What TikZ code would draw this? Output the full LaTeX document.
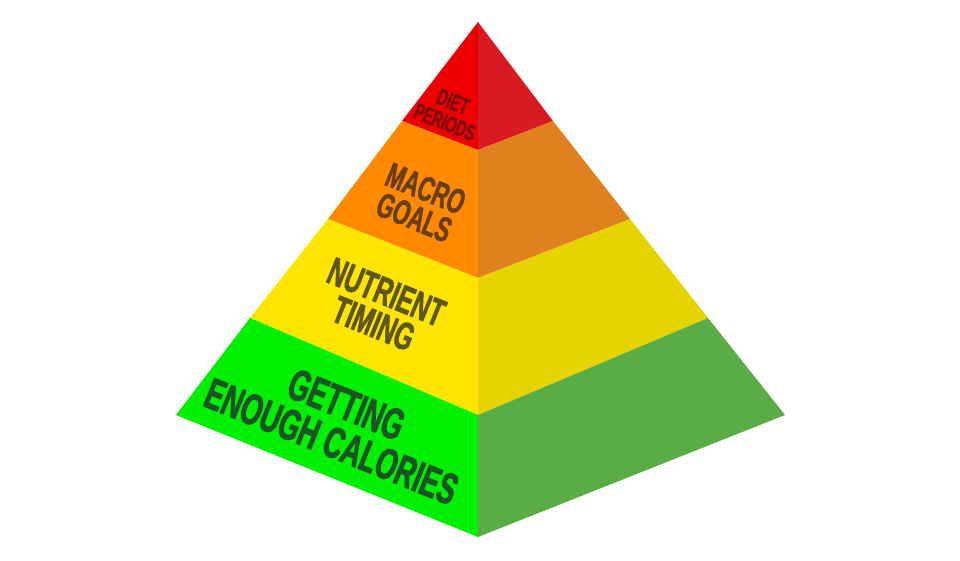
\documentclass[tikz,border=0pt]{standalone}
\usepackage{fontspec}
\usepackage{tikz}
\usetikzlibrary{positioning}
\newfontfamily\pyrfont[FakeStretch=0.62, FakeBold=1.5]{Liberation Sans}
\definecolor{redL}{HTML}{EE0000}
\definecolor{redR}{HTML}{D81B22}
\definecolor{orangeL}{HTML}{FF8A00}
\definecolor{orangeR}{HTML}{E0801F}
\definecolor{yellowL}{HTML}{FFE500}
\definecolor{yellowR}{HTML}{E6D400}
\definecolor{greenL}{HTML}{00F000}
\definecolor{greenR}{HTML}{5AAC44}
\definecolor{redtext}{HTML}{7D0A0A}
\definecolor{orangetext}{HTML}{6B3D12}
\definecolor{yellowtext}{HTML}{5E5719}
\definecolor{greentext}{HTML}{1B5226}
\tikzset{
  layer/.style={align=center, rotate=-22, inner sep=0pt},
}

\begin{document}
\begin{tikzpicture}[line join=round, x=1pt, y=1pt]
\useasboundingbox (0,0) rectangle (960,-560);
% corners
\coordinate (apex) at (478,-22);
\coordinate (l1) at (402,-121);
\coordinate (l2) at (328,-219);
\coordinate (l3) at (250,-318);
\coordinate (l4) at (176,-415);
\coordinate (f1) at (478,-150);
\coordinate (f2) at (478,-278);
\coordinate (f3) at (478,-415);
\coordinate (f4) at (478,-537);
\coordinate (r1) at (553,-121);
\coordinate (r2) at (630,-219);
\coordinate (r3) at (708,-318);
\coordinate (r4) at (785,-415);
% faces
\fill [redL] (apex) -- (l1) -- (f1) -- cycle;
\fill [redR] (apex) -- (r1) -- (f1) -- cycle;
\fill [orangeL] (l1) -- (l2) -- (f2) -- (f1) -- cycle;
\fill [orangeR] (r1) -- (r2) -- (f2) -- (f1) -- cycle;
\fill [yellowL] (l2) -- (l3) -- (f3) -- (f2) -- cycle;
\fill [yellowR] (r2) -- (r3) -- (f3) -- (f2) -- cycle;
\fill [greenL] (l3) -- (l4) -- (f4) -- (f3) -- cycle;
\fill [greenR] (r3) -- (r4) -- (f4) -- (f3) -- cycle;
% labels
\node [layer, text=redtext, font=\pyrfont\bfseries\fontsize{23}{22}\selectfont] (diet) at (449,-112) {DIET\\PERIODS};
\node [layer, text=orangetext, font=\pyrfont\bfseries\fontsize{35}{31}\selectfont] (macro) at (420,-203) {MACRO\\GOALS};
\node [layer, text=yellowtext, font=\pyrfont\bfseries\fontsize{39}{34}\selectfont] (nutrient) at (380,-308) {NUTRIENT\\TIMING};
\node [layer, text=greentext, font=\pyrfont\bfseries\fontsize{44}{40}\selectfont] (calories) at (339,-423) {GETTING\\ENOUGH CALORIES};
\end{tikzpicture}
\end{document}
